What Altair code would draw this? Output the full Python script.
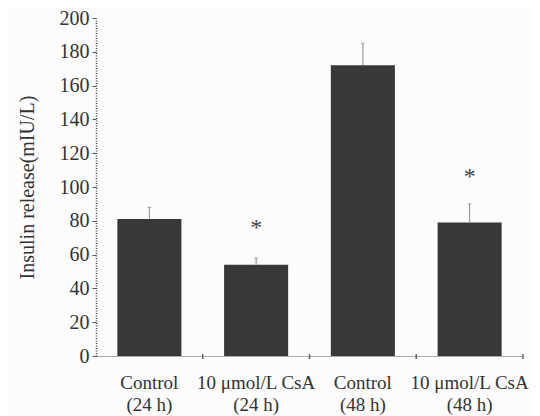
import altair as alt
import pandas as pd

categories = ["Control\n(24 h)", "10 μmol/L CsA\n(24 h)", "Control\n(48 h)", "10 μmol/L CsA\n(48 h)"]
means = [81, 54, 172, 79]
uppers = [88, 58, 185, 90]
stars = ["", "*", "", "*"]
star_pos = [0, 76, 0, 106]
y_ticks = [0, 20, 40, 60, 80, 100, 120, 140, 160, 180, 200]

df = pd.DataFrame({"cat": categories, "mean": means, "upper": uppers,
                   "star": stars, "star_y": star_pos})

W, H = 427, 338
FONT = "Liberation Serif"

xaxis = alt.Axis(title=None, labelAngle=0, ticks=False,
                 labelExpr="split(datum.label, '\\n')",
                 labelFont=FONT, labelFontSize=19, labelColor="#333",
                 labelPadding=17, labelLineHeight=22, labelOverlap=False,
                 domainColor="#aaa", domainWidth=1)
xscale = alt.Scale(paddingInner=0, paddingOuter=0)
yaxis = alt.Axis(title="Insulin release(mIU/L)", values=y_ticks,
                 grid=False, labelFont=FONT, labelFontSize=20, labelColor="#333",
                 labelOverlap=False,
                 titleFont=FONT, titleFontSize=20, titleFontWeight="normal",
                 titleColor="#333", titlePadding=22,
                 domainDash=[1, 1.5], domainColor="#444", domainWidth=1.5,
                 tickColor="#555", tickSize=4, labelPadding=3)
yscale = alt.Scale(domain=[0, 200])


def X(**kw):
    return alt.X("cat:N", sort=categories, scale=xscale, axis=xaxis, **kw)


def Y(field):
    return alt.Y(field, scale=yscale, axis=yaxis)


base = alt.Chart(df)

bars = base.mark_bar(color="#383838", width={"band": 0.6}).encode(x=X(), y=Y("mean:Q"))

err = base.mark_rule(color="#888", strokeWidth=1).encode(
    x=X(), y=Y("mean:Q"), y2="upper:Q")
caps = base.mark_tick(color="#888", thickness=1, size=4).encode(
    x=X(), y=Y("upper:Q"))

star_txt = base.transform_filter("datum.star != ''").mark_text(
    font=FONT, fontSize=24, color="#444", baseline="middle").encode(
    x=X(), y=Y("star_y:Q"), text="star:N")

xticks = base.mark_rule(color="#666", strokeWidth=1.5).encode(
    x=X(bandPosition=1),
    y=alt.value(H - 2), y2=alt.value(H + 3))

chart = alt.layer(bars, err, caps, star_txt, xticks).properties(
    width=W, height=H,
    background="#fcfcfc",
    autosize=alt.AutoSizeParams(type="none"),
    padding={"left": 88, "top": 10, "right": 9, "bottom": 60},
).configure_view(stroke=None)

chart.save("out.html", embed_options={"renderer": "svg", "actions": False})
